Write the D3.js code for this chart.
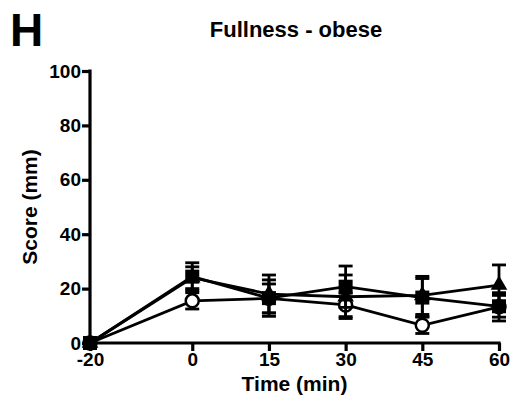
<!DOCTYPE html>
<html><head><meta charset="utf-8">
<script src="https://cdn.jsdelivr.net/npm/d3@7"></script>
<style>body{margin:0;background:#fff}svg{display:block}</style>
</head><body>
<svg id="c" width="516" height="414"></svg>
<script>
const times = [-20, 0, 15, 30, 45, 60];
const xTicks = [-20, 0, 15, 30, 45, 60];
const yTicks = [0, 20, 40, 60, 80, 100];
const circleMean = [0, 15.5, 16.4, 14, 6.5, 13.3];
const circleErr  = [0, 3, 5.3, 4.3, 3, 5.2];
const squareMean = [0, 24.4, 16.5, 20.7, 16.7, 13.5];
const squareErr  = [0, 5.1, 6.7, 7.6, 7, 4];
const triMean    = [0, 24, 18, 17, 17.5, 21.3];
const triErr     = [0, 4, 7, 8, 7, 7.4];

const svg = d3.select("#c");
const font = "Arial, 'Liberation Sans', sans-serif";
const x = d3.scaleLinear().domain([-20, 60]).range([90, 499]);
const y = d3.scaleLinear().domain([0, 100]).range([343, 71]);
const fmt = d => String(d);

const xa = svg.append("g").attr("transform", "translate(0,343)")
  .call(d3.axisBottom(x).tickValues(xTicks).tickFormat(fmt).tickSize(8).tickPadding(2).tickSizeOuter(0));
const ya = svg.append("g").attr("transform", "translate(90,0)")
  .call(d3.axisLeft(y).tickValues(yTicks).tickFormat(fmt).tickSize(8).tickPadding(1).tickSizeOuter(0));
[xa, ya].forEach(a => {
  a.select(".domain").attr("stroke", "#000").attr("stroke-width", 3.2);
  a.selectAll(".tick line").attr("stroke", "#000").attr("stroke-width", 3.2);
  a.selectAll(".tick text").attr("fill", "#000").attr("font-family", font)
    .attr("font-weight", "bold").attr("font-size", 19);
});
xa.select(".domain").attr("d", `M${x(-20)-1.6},0H${x(60)+1.6}`);
ya.select(".domain").attr("d", `M0,${y(100)-1.6}V${y(0)+1.6}`);

const series = [
  {m: circleMean, e: circleErr, shape: "circ"},
  {m: triMean, e: triErr, shape: "tri"},
  {m: squareMean, e: squareErr, shape: "sq"}
];
const line = d3.line().x((d, i) => x(times[i])).y(d => y(d));
const gp = svg.append("g");
series.forEach(s => {
  gp.append("path").attr("d", line(s.m)).attr("fill", "none")
    .attr("stroke", "#000").attr("stroke-width", 2.8);
});
series.forEach(s => {
  const g = gp.append("g");
  s.m.forEach((v, i) => {
    if (s.e[i] <= 0) return;
    const cx = x(times[i]);
    const lo = y(v - s.e[i]), hi = y(v + s.e[i]);
    g.append("line").attr("x1", cx).attr("x2", cx).attr("y1", lo).attr("y2", hi)
      .attr("stroke", "#000").attr("stroke-width", 2.8);
    [lo, hi].forEach(yy => g.append("line").attr("x1", cx - 7).attr("x2", cx + 7)
      .attr("y1", yy).attr("y2", yy).attr("stroke", "#000").attr("stroke-width", 2.8));
  });
  s.m.forEach((v, i) => {
    const cx = x(times[i]), cy = y(v);
    if (s.shape === "sq") {
      g.append("rect").attr("x", cx - 7).attr("y", cy - 7).attr("width", 14).attr("height", 14).attr("fill", "#000");
    } else if (s.shape === "tri") {
      g.append("path").attr("d", d3.symbol(d3.symbolTriangle, 120)()).attr("transform", `translate(${cx},${cy})`).attr("fill", "#000");
    } else {
      g.append("circle").attr("cx", cx).attr("cy", cy).attr("r", 6.5).attr("fill", "#fff")
        .attr("stroke", "#000").attr("stroke-width", 2.5);
    }
  });
});

svg.append("text").attr("x", 296).attr("y", 37).attr("text-anchor", "middle")
  .attr("font-family", font).attr("font-weight", "bold").attr("font-size", 22).text("Fullness - obese");
svg.append("text").attr("x", 10).attr("y", 46).attr("font-family", font)
  .attr("font-weight", "bold").attr("font-size", 46).text("H");
svg.append("text").attr("x", x(20)).attr("y", 391).attr("text-anchor", "middle")
  .attr("font-family", font).attr("font-weight", "bold").attr("font-size", 21).text("Time (min)");
svg.append("text").attr("transform", `translate(37,${y(50)}) rotate(-90)`).attr("text-anchor", "middle")
  .attr("font-family", font).attr("font-weight", "bold").attr("font-size", 21).text("Score (mm)");
</script>
</body></html>
